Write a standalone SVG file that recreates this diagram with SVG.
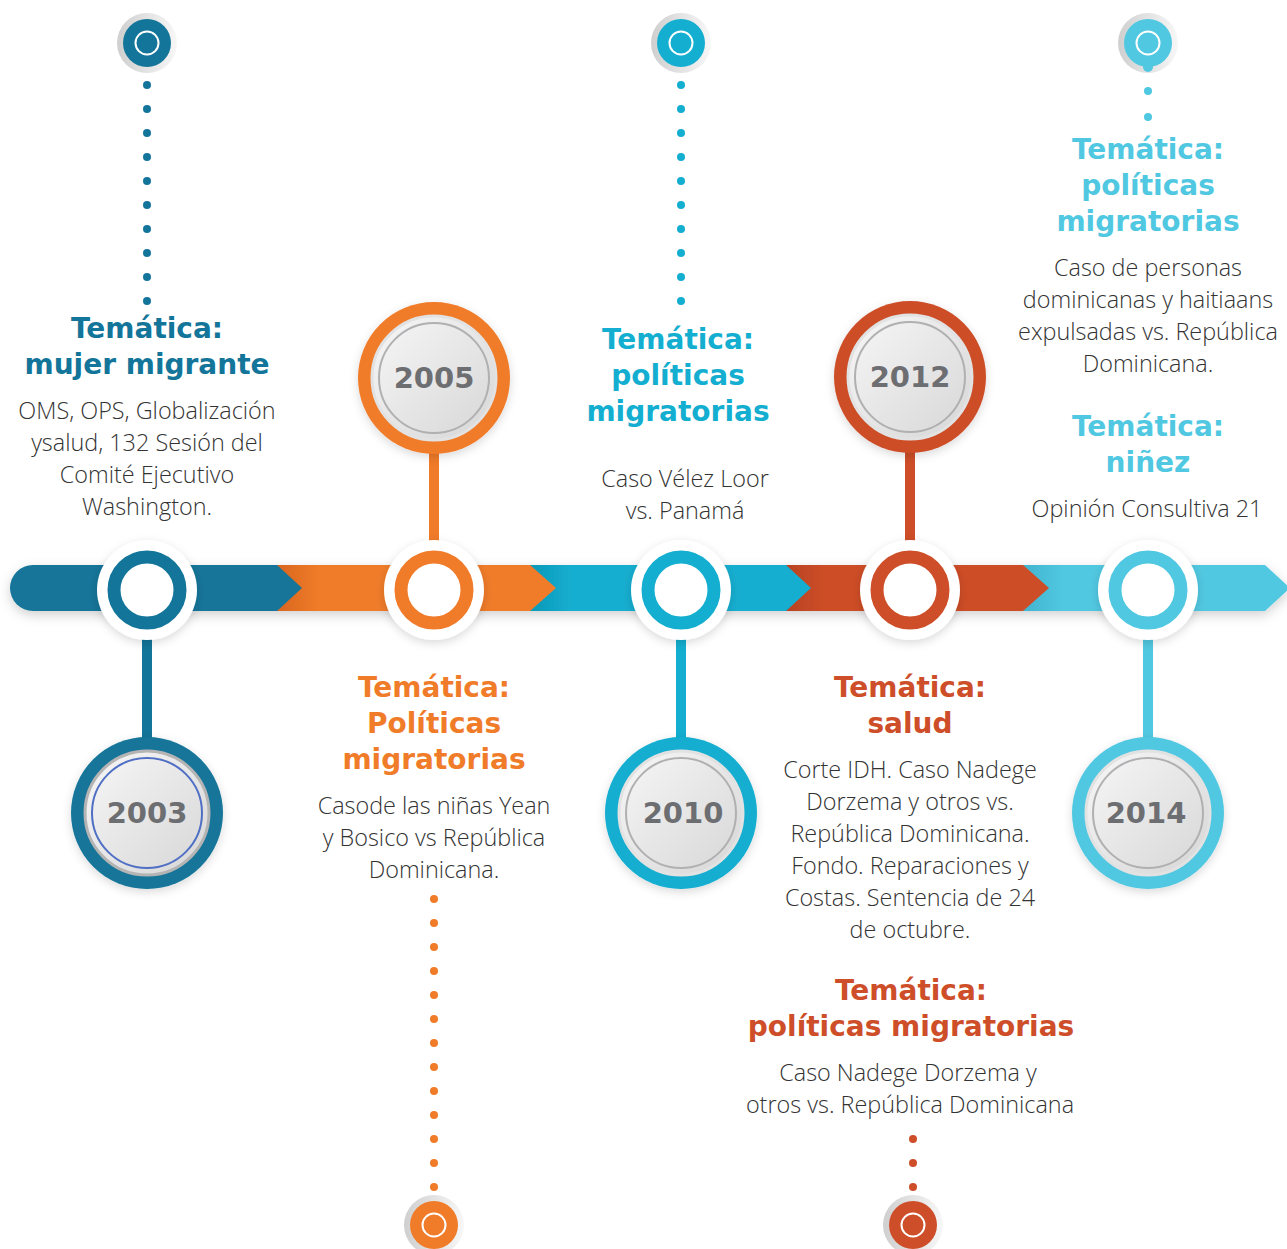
<svg xmlns="http://www.w3.org/2000/svg" width="1287" height="1249" viewBox="0 0 1287 1249">
<defs>
  <style>
    .h { font-family: "DejaVu Sans", "Liberation Sans", sans-serif; font-weight: bold; font-size: 28px; text-anchor: middle; }
    .b { font-family: "Open Sans", "Liberation Sans", sans-serif; font-weight: 300; font-size: 23.4px; fill: #333333; text-anchor: middle; }
    .yr { font-family: "DejaVu Sans", "Liberation Sans", sans-serif; font-weight: bold; font-size: 29px; fill: #6d6e71; text-anchor: middle; }
    .c1 { fill: #137599; } .c2 { fill: #f07b29; } .c3 { fill: #13aed0; } .c4 { fill: #cd4e28; } .c5 { fill: #51c8e1; }
    .s1 { stroke: #137599; } .s2 { stroke: #f07b29; } .s3 { stroke: #13aed0; } .s4 { stroke: #cd4e28; } .s5 { stroke: #51c8e1; }
  </style>
  <filter id="sh" x="-20%" y="-60%" width="140%" height="220%">
    <feDropShadow dx="0" dy="4" stdDeviation="6" flood-color="#000" flood-opacity="0.18"/>
  </filter>
  <filter id="shc" x="-30%" y="-30%" width="160%" height="160%">
    <feDropShadow dx="0" dy="3" stdDeviation="5" flood-color="#000" flood-opacity="0.15"/>
  </filter>
  <linearGradient id="halo" x1="0" y1="0" x2="1" y2="0">
    <stop offset="0" stop-color="#cfcfcf"/>
    <stop offset="1" stop-color="#f7f7f7"/>
  </linearGradient>
  <linearGradient id="disk" x1="0" y1="0" x2="1" y2="1">
    <stop offset="0" stop-color="#f7f7f7"/>
    <stop offset="1" stop-color="#d6d6d6"/>
  </linearGradient>
  <linearGradient id="g2" x1="0" y1="0" x2="1" y2="0">
    <stop offset="0" stop-color="#d9661f"/><stop offset="0.15" stop-color="#f07b29"/><stop offset="1" stop-color="#f07b29"/>
  </linearGradient>
  <linearGradient id="g3" x1="0" y1="0" x2="1" y2="0">
    <stop offset="0" stop-color="#0f98b8"/><stop offset="0.15" stop-color="#13aed0"/><stop offset="1" stop-color="#13aed0"/>
  </linearGradient>
  <linearGradient id="g4" x1="0" y1="0" x2="1" y2="0">
    <stop offset="0" stop-color="#b84222"/><stop offset="0.15" stop-color="#cd4e28"/><stop offset="1" stop-color="#cd4e28"/>
  </linearGradient>
  <linearGradient id="g5" x1="0" y1="0" x2="1" y2="0">
    <stop offset="0" stop-color="#42b3cf"/><stop offset="0.15" stop-color="#51c8e1"/><stop offset="1" stop-color="#51c8e1"/>
  </linearGradient>
</defs>
<rect width="1287" height="1249" fill="#ffffff"/>

<!-- timeline band -->
<g id="band" filter="url(#sh)">
  <polygon points="1023,565 1265,565 1290,588 1265,611 1023,611" fill="url(#g5)"/>
  <polygon points="786,565 1023,565 1049,588 1023,611 786,611" fill="url(#g4)"/>
  <polygon points="530,565 786,565 811,588 786,611 530,611" fill="url(#g3)"/>
  <polygon points="277,565 530,565 556,588 530,611 277,611" fill="url(#g2)"/>
  <path d="M33,565 L277,565 L302,588 L277,611 L33,611 A23,23 0 0 1 33,565 Z" class="c1"/>
</g>

<!-- connectors -->
<g id="connectors">
  <line x1="147" y1="628" x2="147" y2="745" stroke-width="10" class="s1"/>
  <line x1="434" y1="445" x2="434" y2="552" stroke-width="10" class="s2"/>
  <line x1="681" y1="628" x2="681" y2="745" stroke-width="10" class="s3"/>
  <line x1="910" y1="445" x2="910" y2="552" stroke-width="10" class="s4"/>
  <line x1="1148" y1="628" x2="1148" y2="745" stroke-width="10" class="s5"/>
  <g class="c1">
    <circle cx="147" cy="85" r="4"/><circle cx="147" cy="109" r="4"/><circle cx="147" cy="133" r="4"/><circle cx="147" cy="157" r="4"/><circle cx="147" cy="181" r="4"/>
    <circle cx="147" cy="205" r="4"/><circle cx="147" cy="229" r="4"/><circle cx="147" cy="253" r="4"/><circle cx="147" cy="277" r="4"/><circle cx="147" cy="301" r="4"/>
  </g>
  <g class="c3">
    <circle cx="681" cy="85" r="4"/><circle cx="681" cy="109" r="4"/><circle cx="681" cy="133" r="4"/><circle cx="681" cy="157" r="4"/><circle cx="681" cy="181" r="4"/>
    <circle cx="681" cy="205" r="4"/><circle cx="681" cy="229" r="4"/><circle cx="681" cy="253" r="4"/><circle cx="681" cy="277" r="4"/><circle cx="681" cy="301" r="4"/>
  </g>
  <g class="c5">
    <circle cx="1148" cy="91" r="4"/><circle cx="1148" cy="117" r="4"/>
  </g>
  <g class="c2">
    <circle cx="434" cy="899" r="4"/><circle cx="434" cy="923" r="4"/><circle cx="434" cy="947" r="4"/><circle cx="434" cy="971" r="4"/><circle cx="434" cy="995" r="4"/>
    <circle cx="434" cy="1019" r="4"/><circle cx="434" cy="1043" r="4"/><circle cx="434" cy="1067" r="4"/><circle cx="434" cy="1091" r="4"/><circle cx="434" cy="1115" r="4"/>
    <circle cx="434" cy="1139" r="4"/><circle cx="434" cy="1163" r="4"/><circle cx="434" cy="1187" r="4"/>
  </g>
  <g class="c4">
    <circle cx="913" cy="1139" r="4"/><circle cx="913" cy="1163" r="4"/><circle cx="913" cy="1187" r="4"/>
  </g>
</g>

<!-- band circles -->
<g id="band-node-2003"><circle cx="147" cy="590" r="50" fill="#fff" filter="url(#shc)"/><circle cx="147" cy="590" r="33" fill="#fff" stroke-width="13" class="s1"/></g>
<g id="band-node-2005"><circle cx="434" cy="590" r="50" fill="#fff" filter="url(#shc)"/><circle cx="434" cy="590" r="33" fill="#fff" stroke-width="13" class="s2"/></g>
<g id="band-node-2010"><circle cx="681" cy="590" r="50" fill="#fff" filter="url(#shc)"/><circle cx="681" cy="590" r="33" fill="#fff" stroke-width="13" class="s3"/></g>
<g id="band-node-2012"><circle cx="910" cy="590" r="50" fill="#fff" filter="url(#shc)"/><circle cx="910" cy="590" r="33" fill="#fff" stroke-width="13" class="s4"/></g>
<g id="band-node-2014"><circle cx="1148" cy="590" r="50" fill="#fff" filter="url(#shc)"/><circle cx="1148" cy="590" r="33" fill="#fff" stroke-width="13" class="s5"/></g>

<!-- year circles -->
<g id="year-2003">
  <circle cx="147" cy="813" r="76" class="c1" filter="url(#shc)"/>
  <circle cx="147" cy="813" r="62" fill="url(#disk)" stroke="#b4b4b4" stroke-width="3"/>
  <circle cx="147" cy="813" r="55" fill="none" stroke="#4f6fc4" stroke-width="2"/>
  <text x="147" y="823" class="yr">2003</text>
</g>
<g id="year-2005">
  <circle cx="434" cy="378" r="76" class="c2" filter="url(#shc)"/>
  <circle cx="434" cy="378" r="62" fill="url(#disk)" stroke="#e2e2e2" stroke-width="3"/>
  <circle cx="434" cy="378" r="55" fill="none" stroke="#b0b0b3" stroke-width="2"/>
  <text x="434" y="388" class="yr">2005</text>
</g>
<g id="year-2010">
  <circle cx="681" cy="813" r="76" class="c3" filter="url(#shc)"/>
  <circle cx="681" cy="813" r="62" fill="url(#disk)" stroke="#e2e2e2" stroke-width="3"/>
  <circle cx="681" cy="813" r="55" fill="none" stroke="#b0b0b3" stroke-width="2"/>
  <text x="683" y="823" class="yr">2010</text>
</g>
<g id="year-2012">
  <circle cx="910" cy="377" r="76" class="c4" filter="url(#shc)"/>
  <circle cx="910" cy="377" r="62" fill="url(#disk)" stroke="#e2e2e2" stroke-width="3"/>
  <circle cx="910" cy="377" r="55" fill="none" stroke="#b0b0b3" stroke-width="2"/>
  <text x="910" y="387" class="yr">2012</text>
</g>
<g id="year-2014">
  <circle cx="1148" cy="813" r="76" class="c5" filter="url(#shc)"/>
  <circle cx="1148" cy="813" r="62" fill="url(#disk)" stroke="#e2e2e2" stroke-width="3"/>
  <circle cx="1148" cy="813" r="55" fill="none" stroke="#b0b0b3" stroke-width="2"/>
  <text x="1146" y="823" class="yr">2014</text>
</g>

<!-- end nodes -->
<g id="end-top-2003"><circle cx="147" cy="43" r="30" fill="url(#halo)"/><circle cx="147" cy="43" r="24" class="c1"/><circle cx="147" cy="43" r="11.5" fill="none" stroke="#fff" stroke-width="2"/></g>
<g id="end-top-2010"><circle cx="681" cy="43" r="30" fill="url(#halo)"/><circle cx="681" cy="43" r="24" class="c3"/><circle cx="681" cy="43" r="11.5" fill="none" stroke="#fff" stroke-width="2"/></g>
<g id="end-top-2014"><circle cx="1148" cy="43" r="30" fill="url(#halo)"/><circle cx="1148" cy="43" r="24" class="c5"/><circle cx="1148" cy="67" r="5" class="c5"/><circle cx="1148" cy="43" r="11.5" fill="none" stroke="#fff" stroke-width="2"/></g>
<g id="end-bottom-2005"><circle cx="434" cy="1225" r="30" fill="url(#halo)"/><circle cx="434" cy="1225" r="24" class="c2"/><circle cx="434" cy="1225" r="11.5" fill="none" stroke="#fff" stroke-width="2"/></g>
<g id="end-bottom-2012"><circle cx="913" cy="1225" r="30" fill="url(#halo)"/><circle cx="913" cy="1225" r="24" class="c4"/><circle cx="913" cy="1225" r="11.5" fill="none" stroke="#fff" stroke-width="2"/></g>

<!-- texts -->
<g id="text-2003">
  <text class="h c1" x="147" y="338">Temática:</text>
  <text class="h c1" x="147" y="374">mujer migrante</text>
  <text class="b" x="147" y="419">OMS, OPS, Globalización</text>
  <text class="b" x="147" y="451">ysalud, 132 Sesión del</text>
  <text class="b" x="147" y="483">Comité Ejecutivo</text>
  <text class="b" x="147" y="515">Washington.</text>
</g>
<g id="text-2005">
  <text class="h c2" x="434" y="697">Temática:</text>
  <text class="h c2" x="434" y="733">Políticas</text>
  <text class="h c2" x="434" y="769">migratorias</text>
  <text class="b" x="434" y="814">Casode las niñas Yean</text>
  <text class="b" x="434" y="846">y Bosico vs República</text>
  <text class="b" x="434" y="878">Dominicana.</text>
</g>
<g id="text-2010">
  <text class="h c3" x="678" y="349">Temática:</text>
  <text class="h c3" x="678" y="385">políticas</text>
  <text class="h c3" x="678" y="421">migratorias</text>
  <text class="b" x="685" y="487">Caso Vélez Loor</text>
  <text class="b" x="685" y="519">vs. Panamá</text>
</g>
<g id="text-2012">
  <text class="h c4" x="910" y="697">Temática:</text>
  <text class="h c4" x="910" y="733">salud</text>
  <text class="b" x="910" y="778">Corte IDH. Caso Nadege</text>
  <text class="b" x="910" y="810">Dorzema y otros vs.</text>
  <text class="b" x="910" y="842">República Dominicana.</text>
  <text class="b" x="910" y="874">Fondo. Reparaciones y</text>
  <text class="b" x="910" y="906">Costas. Sentencia de 24</text>
  <text class="b" x="910" y="938">de octubre.</text>
  <text class="h c4" x="911" y="1000">Temática:</text>
  <text class="h c4" x="911" y="1036">políticas migratorias</text>
  <text class="b" x="908" y="1081">Caso Nadege Dorzema y</text>
  <text class="b" x="910" y="1113">otros vs. República Dominicana</text>
</g>
<g id="text-2014">
  <text class="h c5" x="1148" y="159">Temática:</text>
  <text class="h c5" x="1148" y="195">políticas</text>
  <text class="h c5" x="1148" y="231">migratorias</text>
  <text class="b" x="1148" y="276">Caso de personas</text>
  <text class="b" x="1148" y="308">dominicanas y haitiaans</text>
  <text class="b" x="1148" y="340">expulsadas vs. República</text>
  <text class="b" x="1148" y="372">Dominicana.</text>
  <text class="h c5" x="1148" y="436">Temática:</text>
  <text class="h c5" x="1148" y="472">niñez</text>
  <text class="b" x="1147" y="517">Opinión Consultiva 21</text>
</g>
</svg>
